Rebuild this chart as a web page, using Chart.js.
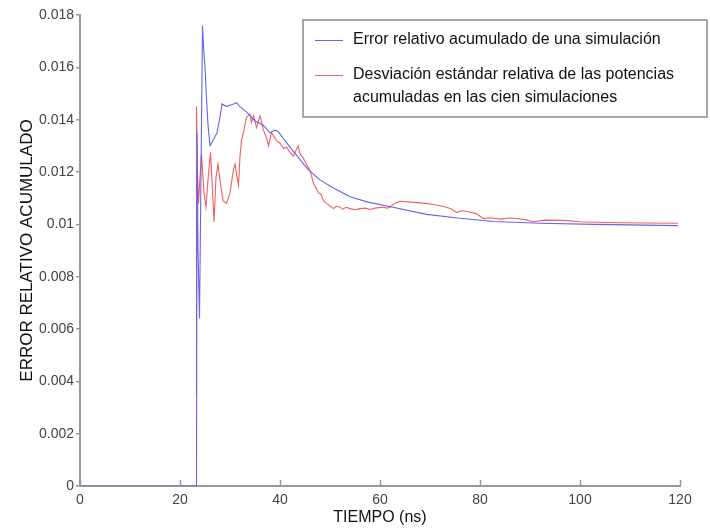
<!DOCTYPE html>
<html>
<head>
<meta charset="utf-8">
<script src="https://cdn.jsdelivr.net/npm/chart.js@4.4.0/dist/chart.umd.min.js"></script>
<style>
  html, body { margin: 0; padding: 0; background: #fff; }
  #wrap { width: 710px; height: 529px; }
</style>
</head>
<body>
<div id="wrap"><canvas id="chart" width="710" height="529"></canvas></div>
<script>
// Blue series: accumulated relative error of one simulation
const timeBlue = [0, 23.3, 23.4, 23.6, 23.9, 24.2, 24.5, 24.7, 25, 25.3, 25.6, 26, 26.6, 27.4, 28, 28.4,
  29.3, 30, 30.7, 31.3, 32, 33.3, 35, 36.6, 38, 39, 39.6, 42, 45.6, 48, 50.6, 54, 57.6, 62.6, 69.3, 76,
  82.7, 92, 103, 119.6];
const errorBlue = [0, 0, 0.0135, 0.009, 0.0064, 0.012, 0.0176, 0.0168, 0.016, 0.0148, 0.0138, 0.013, 0.0132,
  0.0135, 0.0141, 0.0146, 0.0145, 0.01455, 0.0146, 0.01465, 0.0145, 0.0143, 0.01395, 0.0138, 0.0135,
  0.0136, 0.01355, 0.01295, 0.0121, 0.0117, 0.0114, 0.01105, 0.01085, 0.01065, 0.01038, 0.01023,
  0.01011, 0.01004, 0.01, 0.00995];

// Red series: relative standard deviation of the accumulated powers
const timeRed = [23.2, 23.3, 23.5, 23.7, 24, 24.3, 24.8, 25.2, 25.6, 26.1, 26.6, 26.8, 27.2, 27.6, 28,
  28.6, 29.3, 30, 30.7, 31, 31.5, 31.7, 32, 32.3, 32.7, 33.3, 34, 34.3, 34.7, 35.3, 36, 36.7, 37.3, 37.7,
  38.3, 39.3, 40, 40.7, 41.3, 42, 42.7, 43.6, 44, 44.6, 45.3, 46, 46.7, 47.2, 47.7, 48.2, 48.7, 49.3, 50,
  50.7, 51.3, 52, 52.6, 53.2, 54, 55, 56, 57, 58, 59, 60.5, 61.5, 62, 63, 64, 66, 69.3, 71, 73.3, 74.2,
  75.3, 76.3, 77.3, 78.3, 79.3, 80.7, 82, 84, 86, 87.3, 89, 90.7, 93, 96.7, 100, 103, 108, 113, 119.6];
const devRed = [0.0035, 0.0145, 0.012, 0.0108, 0.0118, 0.0127, 0.0112, 0.01065, 0.0117, 0.01275, 0.0109,
  0.0101, 0.0118, 0.0123, 0.0117, 0.0109, 0.0108, 0.0112, 0.0121, 0.0123, 0.0117, 0.0115, 0.0126, 0.0132,
  0.0135, 0.0141, 0.0142, 0.0139, 0.01415, 0.0137, 0.01415, 0.0136, 0.0133, 0.013, 0.0135, 0.0132, 0.0131,
  0.0129, 0.01295, 0.01275, 0.0126, 0.013, 0.0127, 0.01255, 0.0123, 0.01206, 0.01156, 0.0114, 0.0112,
  0.01115, 0.0109, 0.0108, 0.0107, 0.0106, 0.0107, 0.01065, 0.01058, 0.01065, 0.0106, 0.01056, 0.0106,
  0.01062, 0.01057, 0.01062, 0.01065, 0.01062, 0.01066, 0.0108, 0.01088, 0.01085, 0.0108, 0.01075,
  0.01065, 0.0106, 0.01045, 0.01052, 0.0105, 0.01045, 0.0104, 0.01022, 0.01025, 0.0102, 0.01024, 0.01022,
  0.01018, 0.0101, 0.01016, 0.01015, 0.0101, 0.01008, 0.01006, 0.01005, 0.01004];

const xTicks = [0, 20, 40, 60, 80, 100, 120];
const yTicks = [0, 0.002, 0.004, 0.006, 0.008, 0.01, 0.012, 0.014, 0.016, 0.018];
const seriesLabels = [
  ["Error relativo acumulado de una simulación"],
  ["Desviación estándar relativa de las potencias", "acumuladas en las cien simulaciones"]
];

const toPoints = (xs, ys) => xs.map((x, i) => ({ x: x, y: ys[i] }));

// Draws the inward tick marks on the time axis and the boxed legend
const decorPlugin = {
  id: "decor",
  afterDraw(chart) {
    const ctx = chart.ctx;
    const xs = chart.scales.x;
    const area = chart.chartArea;
    ctx.save();
    ctx.strokeStyle = "#999";
    ctx.lineWidth = 1.5;
    xTicks.forEach(v => {
      const px = Math.round(xs.getPixelForValue(v)) + 0.5;
      ctx.beginPath();
      ctx.moveTo(px, area.bottom);
      ctx.lineTo(px, area.bottom - 6);
      ctx.stroke();
    });

    // legend box
    const bx = 303, by = 20, bw = 404, bh = 97;
    ctx.fillStyle = "#fff";
    ctx.fillRect(bx, by, bw, bh);
    ctx.strokeStyle = "#8a8a8a";
    ctx.lineWidth = 1.5;
    ctx.strokeRect(bx, by, bw, bh);
    ctx.font = "16px 'Liberation Sans', Arial, sans-serif";
    ctx.textBaseline = "middle";
    ctx.fillStyle = "#111";
    const rows = [[40], [75, 98]];
    chart.data.datasets.forEach((ds, i) => {
      ctx.strokeStyle = ds.borderColor;
      ctx.lineWidth = 1;
      ctx.beginPath();
      ctx.moveTo(315, rows[i][0] + 0.5);
      ctx.lineTo(343, rows[i][0] + 0.5);
      ctx.stroke();
      seriesLabels[i].forEach((line, j) => ctx.fillText(line, 353, rows[i][j]));
    });
    ctx.restore();
  }
};

new Chart(document.getElementById("chart"), {
  type: "scatter",
  data: {
    datasets: [
      {
        label: seriesLabels[0].join(" "),
        data: toPoints(timeBlue, errorBlue),
        showLine: true,
        borderColor: "#6464ec",
        borderWidth: 1.1,
        pointRadius: 0,
        tension: 0
      },
      {
        label: seriesLabels[1].join(" "),
        data: toPoints(timeRed, devRed),
        showLine: true,
        borderColor: "#f06060",
        borderWidth: 1.1,
        pointRadius: 0,
        tension: 0
      }
    ]
  },
  options: {
    responsive: false,
    animation: false,
    layout: { padding: { top: 15, right: 30, left: 17, bottom: 0 } },
    plugins: {
      legend: { display: false },
      tooltip: { enabled: false }
    },
    scales: {
      x: {
        type: "linear",
        min: 0,
        max: 120,
        afterBuildTicks: s => { s.ticks = xTicks.map(v => ({ value: v })); },
        afterFit: s => { s.height = 43; },
        grid: { display: false, drawTicks: false },
        border: { color: "#999", width: 2 },
        ticks: {
          color: "#444",
          padding: 6,
          font: { family: "'Liberation Sans', Arial, sans-serif", size: 14 }
        },
        title: {
          display: true,
          text: "TIEMPO (ns)",
          color: "#111",
          padding: { top: 0, bottom: 2 },
          font: { family: "'Liberation Sans', Arial, sans-serif", size: 16 }
        }
      },
      y: {
        min: 0,
        max: 0.018,
        afterBuildTicks: s => { s.ticks = yTicks.map(v => ({ value: v })); },
        afterFit: s => { s.width = 63; },
        grid: { display: true, drawOnChartArea: false, drawTicks: true, tickLength: 4, color: "#999", lineWidth: 1.5 },
        border: { color: "#999", width: 2 },
        ticks: {
          color: "#444",
          padding: 2,
          callback: v => String(+v.toFixed(3)),
          font: { family: "'Liberation Sans', Arial, sans-serif", size: 14 }
        },
        title: {
          display: true,
          text: "ERROR RELATIVO ACUMULADO",
          color: "#111",
          padding: { top: 0, bottom: 0 },
          font: { family: "'Liberation Sans', Arial, sans-serif", size: 17 }
        }
      }
    }
  },
  plugins: [decorPlugin]
});
</script>
</body>
</html>
